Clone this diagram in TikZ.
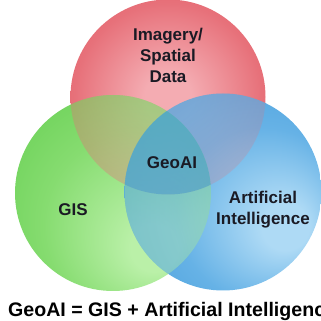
\documentclass[tikz,border=0pt]{standalone}
\usepackage{fontspec}
\setmainfont{Liberation Sans}

\definecolor{redin}{HTML}{F4ACB2}
\definecolor{redmid}{HTML}{E7717A}
\definecolor{redout}{HTML}{D93F4A}
\definecolor{greenin}{HTML}{BAF0A8}
\definecolor{greenmid}{HTML}{86DC70}
\definecolor{greenout}{HTML}{52C740}
\definecolor{bluein}{HTML}{AEDAF5}
\definecolor{bluemid}{HTML}{66B2E6}
\definecolor{blueout}{HTML}{3592D4}
\definecolor{coreblue}{HTML}{3E9ED6}
\definecolor{labelink}{HTML}{1A1A24}

% soft balls: lighter core, saturated rim
\pgfdeclareradialshading{redball}{\pgfpoint{0bp}{0bp}}{color(0bp)=(redin); color(6bp)=(redin); color(24bp)=(redmid); color(50bp)=(redout)}
\pgfdeclareradialshading{greenball}{\pgfpoint{12bp}{-16bp}}{color(0bp)=(greenin); color(6bp)=(greenin); color(24bp)=(greenmid); color(50bp)=(greenout)}
\pgfdeclareradialshading{blueball}{\pgfpoint{18bp}{-10bp}}{color(0bp)=(bluein); color(6bp)=(bluein); color(22bp)=(bluemid); color(50bp)=(blueout)}

\tikzset{
  setlabel/.style={font=\bfseries\fontsize{17}{21}\selectfont, text=labelink, align=center, inner sep=0pt},
  caption/.style={font=\bfseries\fontsize{19.6}{23}\selectfont, text=black, inner sep=0pt}
}

\def\redset{(168,224) circle (97.5)}
\def\greenset{(113,128) circle (98)}
\def\blueset{(223,129) circle (98.5)}

\begin{document}
\begin{tikzpicture}[x=1pt, y=1pt]
  \useasboundingbox (0,0) rectangle (321,321);

  % the three sets, each painted solid
  \shade[shading=redball] \redset;
  \shade[shading=greenball] \greenset;
  % red showing through green
  \begin{scope}
    \clip \greenset;
    \shade[shading=redball, opacity=0.36] \redset;
  \end{scope}
  \shade[shading=blueball] \blueset;
  % red and green showing through blue
  \begin{scope}
    \clip \blueset;
    \shade[shading=redball, opacity=0.22] \redset;
    \begin{scope}
      \clip \greenset;
      \shade[shading=greenball, opacity=0.4] \greenset;
      % the common core stays mostly blue
      \clip \redset;
      \fill[coreblue, opacity=0.55] \blueset;
    \end{scope}
  \end{scope}

  % labels
  \node[setlabel] (imagery) at (168,266) {Imagery/\\Spatial\\Data};
  \node[setlabel] (geoai) at (172,158) {GeoAI};
  \node[setlabel] (gis) at (73,111) {GIS};
  \node[setlabel] (ai) at (263,111) {Artificial\\Intelligence};

  \node[caption, anchor=base west] (formula) at (8,5) {GeoAI = GIS + Artificial Intelligence};
\end{tikzpicture}
\end{document}
